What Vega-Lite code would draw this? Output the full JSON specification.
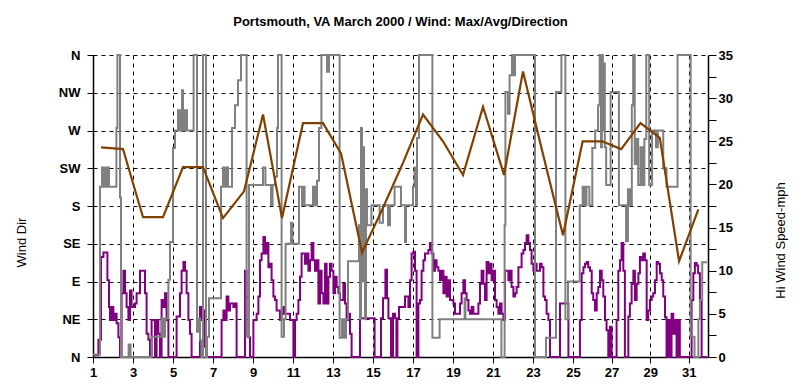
{
  "$schema": "https://vega.github.io/schema/vega-lite/v6.json",
  "width": 615,
  "height": 302,
  "autosize": "none",
  "padding": {"left": 93, "top": 55, "right": 89, "bottom": 28},
  "background": "white",
  "title": {"text": "Portsmouth, VA March 2000 / Wind: Max/Avg/Direction", "font": "Liberation Sans", "fontSize": 13, "fontWeight": "bold", "color": "black", "anchor": "middle", "offset": 20},
  "config": {
    "view": {"stroke": null},
    "axis": {"labelFont": "Liberation Sans", "labelFontSize": 13, "labelFontWeight": "bold", "labelColor": "black", "domainColor": "black", "domainWidth": 1.5, "tickColor": "black", "gridColor": "black", "gridDash": [4, 4], "gridOpacity": 1, "gridWidth": 1, "titleFont": "Liberation Sans", "titleFontSize": 13, "titleFontWeight": "normal", "titleColor": "black", "labelOverlap": false}
  },
  "datasets": {
    "avg": [
      {"d":1.0,"v":0.2},{"d":1.27,"v":2.0},{"d":1.40,"v":11.6},{"d":1.52,"v":12.1},{"d":1.72,"v":8.9},{"d":1.80,"v":5.8},{"d":1.85,"v":4.3},{"d":1.93,"v":5.8},{"d":2.02,"v":4.3},{"d":2.10,"v":5.0},{"d":2.18,"v":3.9},{"d":2.27,"v":2.3},{"d":2.35,"v":0},{"d":2.43,"v":7.4},{"d":2.52,"v":10.0},{"d":2.60,"v":7.4},{"d":2.68,"v":5.8},{"d":2.77,"v":4.3},{"d":2.85,"v":7.7},{"d":2.93,"v":5.8},{"d":3.10,"v":6.2},{"d":3.18,"v":7.4},{"d":3.35,"v":10.0},{"d":3.60,"v":7.4},{"d":3.68,"v":2.7},{"d":3.77,"v":2.0},{"d":3.85,"v":0},{"d":3.93,"v":4.3},{"d":4.10,"v":0},{"d":4.18,"v":4.3},{"d":4.27,"v":2.7},{"d":4.35,"v":0},{"d":4.43,"v":6.6},{"d":4.52,"v":5.8},{"d":4.60,"v":7.4},{"d":4.68,"v":4.3},{"d":4.77,"v":0},{"d":5.18,"v":4.7},{"d":5.35,"v":7.4},{"d":5.43,"v":10.0},{"d":5.52,"v":11.0},{"d":5.60,"v":10.0},{"d":5.68,"v":7.4},{"d":5.77,"v":4.3},{"d":5.85,"v":2.7},{"d":5.93,"v":0},{"d":6.35,"v":5.8},{"d":6.43,"v":4.3},{"d":6.52,"v":5.4},{"d":6.60,"v":1.2},{"d":6.68,"v":0},{"d":7.43,"v":4.3},{"d":7.52,"v":5.4},{"d":7.60,"v":4.3},{"d":7.68,"v":7.0},{"d":7.77,"v":5.4},{"d":7.85,"v":6.2},{"d":8.02,"v":5.8},{"d":8.10,"v":6.2},{"d":8.18,"v":0},{"d":8.60,"v":10.0},{"d":8.68,"v":7.0},{"d":8.77,"v":2.3},{"d":8.85,"v":0},{"d":9.02,"v":4.3},{"d":9.18,"v":5.0},{"d":9.27,"v":7.0},{"d":9.35,"v":11.2},{"d":9.43,"v":12.0},{"d":9.52,"v":13.9},{"d":9.60,"v":12.0},{"d":9.68,"v":13.2},{"d":9.77,"v":10.4},{"d":9.85,"v":10.8},{"d":9.93,"v":8.9},{"d":10.02,"v":7.0},{"d":10.10,"v":6.6},{"d":10.18,"v":5.4},{"d":10.35,"v":4.3},{"d":10.43,"v":5.0},{"d":10.52,"v":5.8},{"d":10.60,"v":5.0},{"d":10.85,"v":4.3},{"d":11.02,"v":0},{"d":11.10,"v":4.3},{"d":11.18,"v":5.0},{"d":11.27,"v":6.6},{"d":11.35,"v":9.3},{"d":11.43,"v":12.0},{"d":11.60,"v":10.8},{"d":11.68,"v":12.0},{"d":11.77,"v":10.0},{"d":11.85,"v":11.2},{"d":11.93,"v":13.2},{"d":12.02,"v":11.2},{"d":12.10,"v":10.0},{"d":12.18,"v":11.2},{"d":12.27,"v":6.2},{"d":12.35,"v":10.0},{"d":12.43,"v":7.4},{"d":12.52,"v":6.2},{"d":12.60,"v":10.8},{"d":12.68,"v":6.2},{"d":12.77,"v":9.3},{"d":12.85,"v":10.8},{"d":12.93,"v":10.0},{"d":13.02,"v":7.4},{"d":13.10,"v":9.3},{"d":13.18,"v":8.1},{"d":13.27,"v":7.4},{"d":13.35,"v":6.6},{"d":13.52,"v":8.5},{"d":13.60,"v":6.2},{"d":13.68,"v":4.3},{"d":13.77,"v":5.0},{"d":13.85,"v":2.7},{"d":13.93,"v":0},{"d":14.35,"v":4.5},{"d":15.08,"v":0},{"d":15.40,"v":4.5},{"d":15.50,"v":6.8},{"d":15.62,"v":10.1},{"d":15.70,"v":6.8},{"d":15.77,"v":4.5},{"d":15.90,"v":0},{"d":16.00,"v":5.0},{"d":16.10,"v":4.5},{"d":16.17,"v":0},{"d":16.22,"v":4.5},{"d":16.30,"v":5.8},
      {"d":16.6,"v":7.0},{"d":16.77,"v":5.8},{"d":16.85,"v":8.9},{"d":16.93,"v":12.0},{"d":17.02,"v":12.2},{"d":17.1,"v":10.0},{"d":17.18,"v":0},{"d":17.27,"v":6.2},{"d":17.35,"v":6.6},{"d":17.43,"v":10.0},{"d":17.52,"v":11.2},{"d":17.6,"v":12.0},{"d":17.77,"v":12.4},{"d":17.85,"v":13.2},{"d":17.93,"v":12.0},{"d":18.02,"v":10.0},{"d":18.1,"v":11.2},{"d":18.18,"v":10.4},{"d":18.27,"v":10.0},{"d":18.35,"v":8.9},{"d":18.43,"v":10.0},{"d":18.52,"v":7.4},{"d":18.6,"v":9.3},{"d":18.68,"v":7.0},{"d":18.77,"v":8.9},{"d":18.85,"v":6.6},{"d":19.02,"v":6.2},{"d":19.1,"v":5.0},{"d":19.35,"v":6.2},{"d":19.43,"v":7.4},{"d":19.52,"v":8.9},{"d":19.6,"v":7.4},{"d":19.68,"v":6.6},{"d":19.77,"v":5.4},{"d":19.85,"v":5.0},{"d":19.93,"v":5.8},{"d":20.02,"v":5.0},{"d":20.27,"v":6.2},{"d":20.35,"v":8.5},{"d":20.43,"v":10.0},{"d":20.52,"v":8.5},{"d":20.6,"v":6.6},{"d":20.68,"v":11.0},{"d":20.77,"v":9.7},{"d":20.85,"v":10.8},{"d":20.93,"v":8.9},{"d":21.02,"v":10.0},{"d":21.1,"v":6.6},{"d":21.18,"v":5.8},{"d":21.27,"v":5.0},{"d":21.35,"v":6.2},{"d":21.43,"v":5.0},{"d":21.52,"v":4.3},{"d":21.6,"v":10.0},{"d":21.77,"v":8.9},{"d":21.85,"v":10.0},{"d":21.93,"v":8.1},{"d":22.02,"v":7.0},{"d":22.1,"v":7.4},{"d":22.18,"v":8.1},{"d":22.27,"v":10.4},{"d":22.43,"v":12.0},{"d":22.52,"v":12.4},{"d":22.6,"v":13.2},{"d":22.68,"v":14.1},{"d":22.77,"v":13.2},{"d":22.85,"v":12.4},{"d":22.93,"v":10.8},{"d":23.02,"v":10.0},{"d":23.1,"v":10.8},{"d":23.18,"v":10.0},{"d":23.35,"v":10.8},{"d":23.43,"v":10.4},{"d":23.52,"v":7.0},{"d":23.6,"v":6.6},{"d":23.68,"v":5.0},{"d":23.77,"v":4.3},{"d":23.85,"v":0},{"d":24.35,"v":6.2},{"d":24.77,"v":0},{"d":25.36,"v":4.3},{"d":25.45,"v":9.7},{"d":25.54,"v":10.4},{"d":25.62,"v":10.8},{"d":25.71,"v":11.0},{"d":25.79,"v":10.4},{"d":25.88,"v":10.0},{"d":25.97,"v":7.4},{"d":26.05,"v":6.6},{"d":26.14,"v":5.4},{"d":26.23,"v":7.4},{"d":26.31,"v":8.1},{"d":26.4,"v":10.0},{"d":26.49,"v":8.9},{"d":26.57,"v":7.0},{"d":26.66,"v":4.3},{"d":26.74,"v":3.1},{"d":26.83,"v":0},{"d":26.92,"v":3.5},{"d":27.0,"v":0},{"d":27.26,"v":4.3},{"d":27.35,"v":10.0},{"d":27.44,"v":11.2},{"d":27.52,"v":13.2},{"d":27.61,"v":10.0},{"d":27.69,"v":0},{"d":27.87,"v":4.7},{"d":27.95,"v":6.2},{"d":28.04,"v":8.5},{"d":28.13,"v":10.0},{"d":28.21,"v":6.6},{"d":28.3,"v":8.5},{"d":28.39,"v":9.7},{"d":28.47,"v":11.6},{"d":28.56,"v":11.2},{"d":28.64,"v":12.0},{"d":28.73,"v":11.2},{"d":28.82,"v":4.3},{"d":28.9,"v":5.4},{"d":28.99,"v":6.6},{"d":29.08,"v":7.0},{"d":29.16,"v":7.4},{"d":29.25,"v":8.9},{"d":29.34,"v":11.0},{"d":29.42,"v":10.8},{"d":29.51,"v":9.7},{"d":29.6,"v":8.9},{"d":29.68,"v":7.0},{"d":29.77,"v":4.6},{"d":29.85,"v":0},{"d":29.94,"v":4.3},{"d":30.03,"v":0},{"d":30.11,"v":5.0},{"d":30.2,"v":2.7},{"d":30.28,"v":4.3},{"d":30.37,"v":0},{"d":30.46,"v":4.3},{"d":30.54,"v":0},{"d":31.15,"v":6.6},{"d":31.24,"v":9.7},{"d":31.32,"v":10.9},{"d":31.41,"v":10.6},{"d":31.49,"v":9.7},{"d":31.58,"v":6.6},{"d":31.67,"v":0},{"d":31.93,"v":0}
    ],
    "dir": [
      {"d":1.0,"a":3},{"d":1.35,"a":203},{"d":1.45,"a":226},{"d":1.5,"a":203},{"d":1.6,"a":226},{"d":1.67,"a":203},{"d":1.75,"a":226},{"d":1.8,"a":203},{"d":2.17,"a":273},{"d":2.22,"a":360},{"d":2.35,"a":190},{"d":2.4,"a":0},{"d":2.78,"a":15},{"d":2.88,"a":0},{"d":3.93,"a":24},{"d":4.43,"a":46},{"d":4.52,"a":24},{"d":4.6,"a":46},{"d":4.77,"a":92},{"d":4.85,"a":137},{"d":5.0,"a":249},{"d":5.1,"a":270},{"d":5.25,"a":294},{"d":5.35,"a":270},{"d":5.45,"a":318},{"d":5.5,"a":270},{"d":5.6,"a":294},{"d":5.7,"a":270},{"d":6.03,"a":360},{"d":6.2,"a":30},{"d":6.27,"a":46},{"d":6.35,"a":20},{"d":6.42,"a":0},{"d":6.5,"a":360},{"d":6.65,"a":0},{"d":6.7,"a":24},{"d":6.8,"a":70},{"d":7.4,"a":203},{"d":7.5,"a":226},{"d":7.58,"a":203},{"d":7.68,"a":226},{"d":7.75,"a":203},{"d":7.95,"a":273},{"d":8.1,"a":300},{"d":8.25,"a":330},{"d":8.4,"a":360},{"d":8.68,"a":24},{"d":8.8,"a":205},{"d":9.5,"a":226},{"d":9.62,"a":205},{"d":9.9,"a":181},{"d":9.98,"a":205},{"d":10.1,"a":215},{"d":10.2,"a":273},{"d":10.25,"a":360},{"d":10.43,"a":24},{"d":10.55,"a":45},{"d":10.63,"a":135},{"d":10.9,"a":160},{"d":10.97,"a":135},{"d":11.3,"a":203},{"d":11.45,"a":181},{"d":11.5,"a":203},{"d":11.58,"a":181},{"d":12.0,"a":203},{"d":12.1,"a":181},{"d":12.2,"a":210},{"d":12.3,"a":273},{"d":12.42,"a":360},{"d":12.7,"a":340},{"d":12.8,"a":360},{"d":13.33,"a":23},{"d":13.45,"a":45},{"d":13.55,"a":23},{"d":13.65,"a":45},{"d":13.75,"a":114},{"d":14.3,"a":157},{"d":14.35,"a":45},{"d":14.4,"a":273},{"d":14.45,"a":90},{"d":14.5,"a":250},{"d":14.55,"a":157},{"d":14.6,"a":45},{"d":14.65,"a":200},{"d":14.7,"a":157},{"d":14.92,"a":181},{"d":15.33,"a":160},{"d":15.5,"a":181},{"d":15.75,"a":157},{"d":15.85,"a":181},{"d":16.08,"a":203},{"d":16.4,"a":181},{"d":16.6,"a":137},{"d":16.65,"a":181},{"d":17.0,"a":203},{"d":17.08,"a":226},{"d":17.15,"a":181},{"d":17.2,"a":261},{"d":17.3,"a":360},{"d":17.97,"a":23},{"d":18.33,"a":45},{"d":19.58,"a":70},{"d":19.62,"a":45},{"d":21.42,"a":0},{"d":21.58,"a":157},{"d":21.62,"a":316},{"d":21.75,"a":290},{"d":21.83,"a":336},{"d":21.95,"a":360},{"d":22.05,"a":336},{"d":22.1,"a":360},{"d":23.1,"a":0},{"d":23.65,"a":23},{"d":24.15,"a":316},{"d":24.42,"a":360},{"d":24.62,"a":45},{"d":24.75,"a":90},{"d":25.35,"a":181},{"d":25.5,"a":203},{"d":25.6,"a":181},{"d":25.7,"a":203},{"d":25.85,"a":181},{"d":26.0,"a":249},{"d":26.15,"a":270},{"d":26.3,"a":300},{"d":26.38,"a":360},{"d":26.45,"a":250},{"d":26.5,"a":360},{"d":26.55,"a":270},{"d":26.6,"a":350},{"d":26.65,"a":250},{"d":26.72,"a":205},{"d":26.95,"a":316},{"d":27.38,"a":181},{"d":27.75,"a":138},{"d":27.85,"a":200},{"d":27.95,"a":181},{"d":28.05,"a":300},{"d":28.12,"a":360},{"d":28.2,"a":230},{"d":28.3,"a":260},{"d":28.38,"a":205},{"d":28.5,"a":250},{"d":28.6,"a":205},{"d":28.7,"a":260},{"d":28.8,"a":360},{"d":28.95,"a":205},{"d":29.1,"a":270},{"d":29.3,"a":250},{"d":29.4,"a":270},{"d":29.68,"a":225},{"d":29.85,"a":203},{"d":30.42,"a":360},{"d":31.1,"a":24},{"d":31.3,"a":0},{"d":31.5,"a":45},{"d":31.58,"a":68},{"d":31.7,"a":113},{"d":31.95,"a":113}
    ],
    "hi": [
      {"d":1.4,"v":24.3},{"d":2.5,"v":24.1},{"d":3.5,"v":16.2},{"d":4.5,"v":16.2},{"d":5.5,"v":22.0},{"d":6.5,"v":22.0},{"d":7.5,"v":16.1},{"d":8.55,"v":19.2},{"d":9.5,"v":28.1},{"d":10.45,"v":16.1},{"d":11.5,"v":27.1},{"d":12.5,"v":27.1},{"d":13.4,"v":23.6},{"d":14.45,"v":12.1},{"d":15.5,"v":17.3},{"d":16.5,"v":22.5},{"d":17.5,"v":28.1},{"d":18.5,"v":25.0},{"d":19.5,"v":21.1},{"d":20.5,"v":29.0},{"d":21.55,"v":21.1},{"d":22.5,"v":33.1},{"d":23.5,"v":23.5},{"d":24.5,"v":14.1},{"d":25.5,"v":25.0},{"d":26.5,"v":25.0},{"d":27.5,"v":24.1},{"d":28.5,"v":27.1},{"d":29.5,"v":25.4},{"d":30.5,"v":11.1},{"d":31.5,"v":17.1}
    ]
  },
  "layer": [
    {
      "data": {"name": "avg"},
      "mark": {"type": "line", "color": "#800080", "strokeWidth": 2, "interpolate": "step-after"},
      "encoding": {
        "x": {"field": "d", "type": "quantitative", "scale": {"domain": [1, 25, 32], "range": [0, 480, 615], "zero": false, "nice": false},
          "axis": {"values": [1,2,3,4,5,6,7,8,9,10,11,12,13,14,15,16,17,18,19,20,21,22,23,24,25,26,27,28,29,30,31], "grid": true, "tickSize": 6, "labelPadding": 3, "labelExpr": "datum.value % 2 == 1 ? datum.label : ''", "title": null, "labelFlush": false}},
        "y": {"field": "v", "type": "quantitative", "scale": {"domain": [0, 35], "nice": false, "zero": false},
          "axis": {"orient": "right", "values": [0,2.5,5,7.5,10,12.5,15,17.5,20,22.5,25,27.5,30,32.5,35], "labelExpr": "datum.value % 5 == 0 ? datum.label : ''", "grid": false, "tickSize": 8, "labelPadding": 2, "title": "Hi Wind Speed-mph", "titleX": 72, "titleY": 185, "titleAngle": 270, "titleAlign": "center", "titleBaseline": "middle", "labelFlush": false}}
      }
    },
    {
      "data": {"name": "dir"},
      "mark": {"type": "line", "color": "#808080", "strokeWidth": 2, "interpolate": "step-after"},
      "encoding": {
        "x": {"field": "d", "type": "quantitative", "scale": {"domain": [1, 25, 32], "range": [0, 480, 615], "zero": false, "nice": false}},
        "y": {"field": "a", "type": "quantitative", "scale": {"domain": [0, 360], "nice": false, "zero": false},
          "axis": {"orient": "left", "values": [0,45,90,135,180,225,270,315,360], "labelExpr": "['N','NE','E','SE','S','SW','W','NW','N'][round(datum.value/45)]", "grid": true, "tickSize": 6, "labelPadding": 7, "title": "Wind Dir", "titleX": -72, "titleY": 187, "titleAngle": 270, "titleAlign": "center", "titleBaseline": "middle", "labelFlush": false}}
      }
    },
    {
      "data": {"name": "hi"},
      "mark": {"type": "line", "color": "#804000", "strokeWidth": 2.2},
      "encoding": {
        "x": {"field": "d", "type": "quantitative", "scale": {"domain": [1, 25, 32], "range": [0, 480, 615], "zero": false, "nice": false}},
        "y": {"field": "v", "type": "quantitative", "scale": {"domain": [0, 35], "nice": false, "zero": false}, "axis": null}
      }
    }
  ],
  "resolve": {"scale": {"y": "independent"}}
}
